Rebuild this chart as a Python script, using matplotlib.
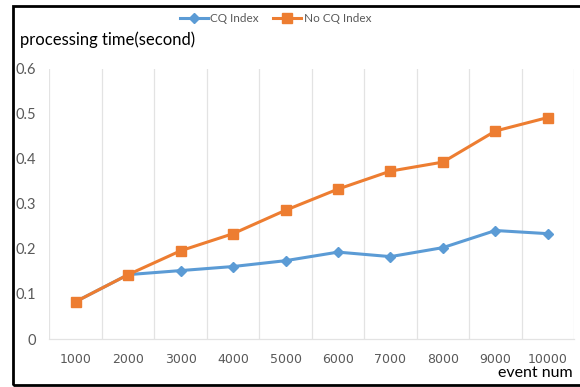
import matplotlib.pyplot as plt
from matplotlib.patches import Rectangle


# Data
event_nums = ['1000', '2000', '3000', '4000', '5000', '6000', '7000', '8000', '9000', '10000']
cq_index = [0.083, 0.143, 0.152, 0.161, 0.174, 0.193, 0.183, 0.203, 0.241, 0.234]
no_cq_index = [0.083, 0.143, 0.196, 0.234, 0.286, 0.333, 0.373, 0.393, 0.462, 0.492]
y_ticks = [0, 0.1, 0.2, 0.3, 0.4, 0.5, 0.6]

blue = '#5b9bd5'
orange = '#ed7d31'
grid_grey = '#e3e3e3'
label_grey = '#595959'

plt.rcParams['font.family'] = ['Lato', 'DejaVu Sans']

fig = plt.figure(figsize=(5.8, 3.87), dpi=100)
ax = fig.add_axes([0.0853, 0.124, 0.9045, 0.698])

x = list(range(1, len(event_nums) + 1))

ax.plot(x, cq_index, color=blue, linewidth=2.2, marker='D', markersize=5,
        label='CQ Index', zorder=3)
ax.plot(x, no_cq_index, color=orange, linewidth=2.2, marker='s', markersize=7,
        label='No CQ Index', zorder=4)

# category axis with gridlines between categories (excel style)
ax.set_xlim(0.5, len(event_nums) + 0.5)
ax.set_ylim(0, 0.6)
for b in range(len(event_nums) + 1):
    ax.axvline(b + 0.5, color=grid_grey, linewidth=0.9, zorder=1)

ax.set_xticks(x)
ax.set_xticklabels(event_nums, fontsize=9, color=label_grey,
                   family=['DejaVu Sans'])
ax.set_yticks(y_ticks)
ax.set_yticklabels([f'{v:g}' for v in y_ticks], fontsize=10.5, color=label_grey)
ax.tick_params(axis='both', length=0)
ax.tick_params(axis='x', pad=10)
ax.tick_params(axis='y', pad=9.5)

for side in ['top', 'right', 'left']:
    ax.spines[side].set_visible(False)
ax.spines['bottom'].set_color(grid_grey)
ax.spines['bottom'].set_linewidth(0.9)

# legend on top centre
fig.legend(loc='center', bbox_to_anchor=(0.475, 0.953), ncol=2, frameon=False,
           fontsize=8.5, handlelength=2.4, columnspacing=1.2, handletextpad=0.2,
           labelcolor=label_grey)

# axis titles
fig.text(20 / 580, 1 - 40 / 387, 'processing time(second)', fontsize=12,
         va='center', ha='left')
fig.text(573 / 580, 1 - 373 / 387, 'event num', fontsize=11.5,
         va='center', ha='right')

# black frame around the chart (right edge runs off the picture)
frame = Rectangle((12.5 / 580, 1 - 385 / 387), 1.0, 1 - 6 / 387 - (1 - 385 / 387),
                  transform=fig.transFigure, fill=False, edgecolor='black',
                  linewidth=2, clip_on=False)
fig.patches.append(frame)

fig.savefig('out.png', dpi=100)
